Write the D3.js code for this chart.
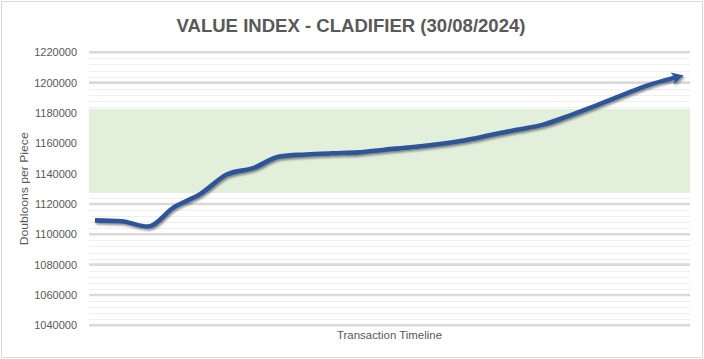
<!DOCTYPE html>
<html><head><meta charset="utf-8">
<script src="https://cdn.jsdelivr.net/npm/d3@7"></script>
<style>
html,body{margin:0;padding:0;background:#fff;}
svg{display:block;}
</style></head>
<body>
<script>
// ---- data ----
const titleText = "VALUE INDEX - CLADIFIER (30/08/2024)";
const yAxisTitle = "Doubloons per Piece";
const xAxisTitle = "Transaction Timeline";
const transactions = d3.range(1, 24);
const values = [1109200, 1108600, 1105100, 1117900, 1126600, 1139400, 1143600, 1151300,
  1152600, 1153400, 1154000, 1155800, 1157400, 1159400, 1161900, 1165400, 1168900,
  1172300, 1178300, 1184800, 1191800, 1198400, 1203300];
const yTicks = [1040000, 1060000, 1080000, 1100000, 1120000, 1140000, 1160000, 1180000, 1200000, 1220000];
const yDomain = [1040000, 1220000];
const minorStep = 4000;
const bandRange = [1127400, 1182600];

// ---- layout ----
const W = 704, H = 359;
const plot = {left: 89, right: 690, top: 52.3, bottom: 325.3};

const svg = d3.select("body").append("svg").attr("width", W).attr("height", H);

const defs = svg.append("defs");
const f = defs.append("filter").attr("id", "shadow").attr("x", "-5%").attr("y", "-20%").attr("width", "110%").attr("height", "140%");
f.append("feDropShadow").attr("dx", 1.2).attr("dy", 1.8).attr("stdDeviation", 1.1)
  .attr("flood-color", "#000").attr("flood-opacity", 0.45);
defs.append("marker").attr("id", "arrow").attr("markerUnits", "userSpaceOnUse")
  .attr("viewBox", "-2 -7 16 14").attr("markerWidth", 16).attr("markerHeight", 14)
  .attr("refX", 3).attr("refY", 0).attr("orient", "auto")
  .append("path").attr("d", "M0,-6 L12,0 L0,6 L3,0 Z").attr("fill", "#2f5597");

// outer border
svg.append("rect").attr("x", 1.5).attr("y", 1.5).attr("width", W - 3).attr("height", H - 3)
  .attr("fill", "#fff").attr("stroke", "#d9d9d9").attr("stroke-width", 1);

const y = d3.scaleLinear().domain(yDomain).range([plot.bottom, plot.top]);
const x = d3.scalePoint().domain(transactions).range([95, 675]);

// minor gridlines
const minor = d3.range(yDomain[0], yDomain[1] + 1, minorStep).filter(v => !yTicks.includes(v));
svg.append("g").selectAll("line").data(minor).join("line")
  .attr("x1", plot.left).attr("x2", plot.right)
  .attr("y1", d => Math.round(y(d)) + 0.5).attr("y2", d => Math.round(y(d)) + 0.5)
  .attr("stroke", "#efefef").attr("stroke-width", 1.2);

// major gridlines
svg.append("g").selectAll("line").data(yTicks).join("line")
  .attr("x1", plot.left).attr("x2", plot.right)
  .attr("y1", d => y(d)).attr("y2", d => y(d))
  .attr("stroke", "#d9d9d9").attr("stroke-width", 2.6);

// green band
svg.append("rect").attr("x", plot.left).attr("width", plot.right - plot.left)
  .attr("y", y(bandRange[1])).attr("height", y(bandRange[0]) - y(bandRange[1]))
  .attr("fill", "#e2efda");

// y axis
const yAxis = d3.axisLeft(y).tickValues(yTicks).tickSize(0).tickPadding(12).tickFormat(d3.format("d"));
const ga = svg.append("g").attr("transform", `translate(${plot.left},0)`).call(yAxis);
ga.select(".domain").remove();
ga.selectAll("text").attr("font-family", "Liberation Sans, Arial, sans-serif")
  .attr("font-size", 11).attr("fill", "#595959");

// line
const line = d3.line().x((d, i) => x(transactions[i])).y(d => y(d)).curve(d3.curveMonotoneX);
svg.append("path").datum(values).attr("d", line)
  .attr("fill", "none").attr("stroke", "#2f5597").attr("stroke-width", 4.6)
  .attr("stroke-linejoin", "round").attr("stroke-linecap", "butt")
  .attr("marker-end", "url(#arrow)").attr("filter", "url(#shadow)");

// title
svg.append("text").attr("x", 351).attr("y", 32).attr("text-anchor", "middle")
  .attr("font-family", "Liberation Sans Narrow, Liberation Sans, Arial, sans-serif")
  .attr("font-weight", "bold").attr("font-size", 19).attr("fill", "#595959")
  .attr("textLength", 349).attr("lengthAdjust", "spacingAndGlyphs")
  .text(titleText);

// axis titles
svg.append("text").attr("transform", `translate(28,${(plot.top + plot.bottom) / 2}) rotate(-90)`)
  .attr("text-anchor", "middle").attr("font-family", "Liberation Sans, Arial, sans-serif")
  .attr("font-size", 11.5).attr("fill", "#595959")
  .attr("textLength", 113).attr("lengthAdjust", "spacingAndGlyphs").text(yAxisTitle);
svg.append("text").attr("x", (plot.left + plot.right) / 2).attr("y", 339)
  .attr("text-anchor", "middle").attr("font-family", "Liberation Sans, Arial, sans-serif")
  .attr("font-size", 11.5).attr("fill", "#595959")
  .attr("textLength", 105).attr("lengthAdjust", "spacingAndGlyphs").text(xAxisTitle);
</script>
</body></html>
